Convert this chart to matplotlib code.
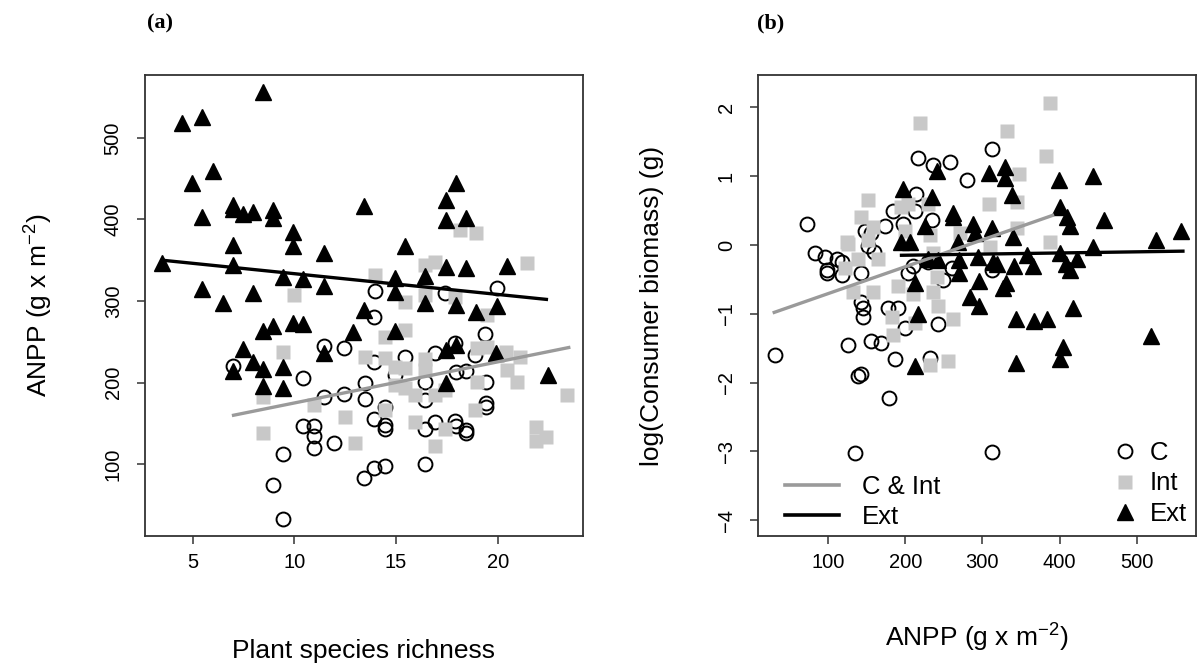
import matplotlib
matplotlib.use("Agg")
import matplotlib.pyplot as plt
from matplotlib.lines import Line2D

plt.rcParams['font.family'] = ['Liberation Sans', 'DejaVu Sans']
plt.rcParams['mathtext.fontset'] = 'custom'
plt.rcParams['mathtext.rm'] = 'Liberation Sans'
plt.rcParams['mathtext.it'] = 'Liberation Sans:italic'

# ---- panel (a): plant species richness vs ANPP ----
a_c_x = [13.9, 6.97, 11.45, 12.44, 13.92, 15.44, 16.92, 10.42, 13.47, 11.45, 12.44, 13.47,
         16.43, 16.43, 13.92, 14.46, 14.46, 16.92, 16.43, 10.42, 10.96, 10.96, 10.96, 11.95,
         9.43, 8.94, 9.43, 13.42, 13.92, 14.46, 16.43, 14.46, 19.38, 17.9, 18.89, 17.96,
         18.45, 14.95, 19.43, 19.43, 19.43, 17.9, 17.96, 18.45, 18.45, 13.97, 17.41, 19.98]
a_c_y = [280, 220, 245, 242, 225, 232, 236, 206, 199, 182, 186, 180,
         201, 179, 155, 148, 143, 152, 143, 147, 147, 134, 120, 126,
         112, 74, 33, 83, 95, 98, 100, 170, 259, 248, 234, 213,
         214, 209, 201, 175, 170, 153, 147, 142, 138, 312, 310, 316]

a_int_x = [18.15, 18.94, 21.45, 16.92, 16.43, 13.97, 15.44, 16.43, 17.9, 19.48, 15.44, 14.46,
           9.97, 13.47, 14.46, 14.95, 15.44, 16.43, 16.43, 18.99, 19.48, 20.4, 21.1, 14.95,
           15.44, 15.94, 16.92, 17.41, 20.47, 20.96, 19.0, 18.89, 14.46, 12.49, 15.94, 17.41,
           16.92, 12.98, 21.9, 22.4, 21.9, 23.4, 8.45, 9.43, 8.45, 10.96]
a_int_y = [387, 383, 347, 348, 344, 332, 299, 307, 305, 283, 264, 256,
           307, 231, 230, 219, 218, 229, 215, 242, 244, 237, 231, 197,
           194, 185, 185, 191, 215, 201, 201, 167, 166, 158, 152, 143,
           122, 126, 145, 133, 129, 185, 182, 237, 138, 172]

a_ext_x = [8.45, 4.46, 5.44, 5.99, 4.95, 5.44, 6.97, 6.97, 7.46, 7.96, 8.94, 8.94,
           9.93, 9.93, 6.97, 11.45, 13.42, 15.44, 3.47, 6.97, 9.43, 10.42, 11.45, 14.95,
           14.95, 16.43, 16.43, 5.44, 7.96, 6.48, 13.42, 8.45, 8.94, 9.93, 10.42, 12.88,
           14.95, 7.46, 7.96, 8.45, 9.43, 11.45, 6.97, 8.45, 9.43, 17.96, 17.46, 17.46,
           18.45, 17.46, 18.45, 20.47, 17.96, 18.94, 19.98, 17.46, 17.96, 19.93, 17.46, 22.5]
a_ext_y = [556, 518, 525, 459, 445, 403, 418, 413, 407, 409, 412, 402,
           385, 367, 369, 359, 417, 367, 347, 344, 329, 327, 318, 328,
           311, 331, 297, 315, 310, 297, 289, 263, 269, 273, 272, 262,
           263, 241, 225, 217, 219, 236, 214, 196, 194, 445, 424, 399,
           402, 342, 340, 343, 295, 287, 294, 240, 246, 236, 199, 209]

# fitted lines (end points)
a_fit_cint_x = [7.0, 23.5]
a_fit_cint_y = [160, 243]
a_fit_ext_x = [3.5, 22.4]
a_fit_ext_y = [350, 302]

# ---- panel (b): ANPP vs log consumer biomass ----
b_c_x = [217, 236, 258, 280, 214, 73, 184, 213, 197, 235, 148, 155, 174, 152, 83, 96, 112,
         99, 99, 118, 142, 203, 249, 142, 145, 145, 177, 190, 200, 243, 126, 155, 168, 31,
         187, 232, 139, 142, 179, 135, 313, 313, 261, 313, 118, 160, 210, 230]
b_c_y = [1.26, 1.16, 1.21, 0.95, 0.74, 0.31, 0.5, 0.5, 0.31, 0.36, 0.21, 0.17, 0.28, -0.02,
         -0.12, -0.18, -0.2, -0.37, -0.41, -0.44, -0.41, -0.41, -0.51, -0.83, -0.91, -1.05,
         -0.92, -0.92, -1.2, -1.15, -1.46, -1.39, -1.43, -1.6, -1.66, -1.65, -1.9, -1.87,
         -2.23, -3.03, -3.01, 1.39, -0.33, -0.36, -0.25, -0.1, -0.3, -0.25]

b_int_x = [219, 152, 143, 194, 125, 232, 122, 139, 126, 151, 165, 191, 210, 236, 242, 132,
           158, 183, 213, 262, 184, 232, 255, 332, 383, 347, 308, 345, 271, 388, 310, 387,
           345, 203, 229, 236, 241, 158, 200]
b_int_y = [1.77, 0.66, 0.4, 0.55, 0.04, 0.14, -0.33, -0.21, 0.02, 0.07, -0.2, -0.59, -0.71,
           -0.69, -0.88, -0.69, -0.69, -1.05, -1.14, -1.08, -1.31, -1.75, -1.69, 1.66, 1.29,
           1.03, 0.6, 0.62, 0.17, 0.05, -0.03, 2.06, 0.24, 0.6, 0.6, -0.12, -0.47, 0.26, 0.2]

b_ext_x = [241, 197, 235, 262, 225, 194, 206, 268, 229, 242, 269, 269, 213, 217, 213, 308,
           329, 329, 399, 444, 338, 401, 262, 410, 414, 457, 288, 291, 312, 340, 294, 314,
           319, 358, 400, 444, 341, 366, 409, 414, 423, 296, 330, 327, 284, 296, 418, 344,
           367, 384, 405, 400, 343, 525, 557, 518]
b_ext_y = [1.08, 0.82, 0.69, 0.46, 0.27, 0.04, 0.04, 0.04, -0.2, -0.22, -0.22, -0.41, -0.56,
           -1.0, -1.76, 1.04, 1.13, 0.98, 0.94, 1.0, 0.72, 0.55, 0.4, 0.4, 0.27, 0.37, 0.31,
           0.18, 0.24, 0.11, -0.18, -0.25, -0.28, -0.14, -0.11, -0.03, -0.3, -0.3, -0.27,
           -0.37, -0.2, -0.53, -0.56, -0.63, -0.75, -0.88, -0.92, -1.08, -1.1, -1.07, -1.49,
           -1.66, -1.72, 0.07, 0.2, -1.33]

b_fit_cint_x = [30, 391]
b_fit_cint_y = [-0.98, 0.43]
b_fit_ext_x = [195, 560]
b_fit_ext_y = [-0.15, -0.09]

SQ_GRAY = '#c8c8c8'
LN_GRAY = '#9a9a9a'
EDGE = '#333333'
LAB_FS = 19
TICK_FS = 14.5
LEG_FS = 18.5


def draw_points(ax, cx, cy, ix, iy, ex, ey):
    ax.plot(cx, cy, 'o', ms=10, mfc='none', mec='black', mew=1.4, ls='none', zorder=2)
    ax.plot(ix, iy, 's', ms=9.5, mfc=SQ_GRAY, mec='none', ls='none', zorder=3)
    ax.plot(ex, ey, '^', ms=12, mfc='black', mec='black', ls='none', zorder=4)


def style_axes(ax):
    for s in ax.spines.values():
        s.set_color(EDGE)
        s.set_linewidth(1.3)
    ax.tick_params(direction='out', length=6, width=1.1, color=EDGE, labelsize=TICK_FS, pad=6)
    ax.tick_params(axis='y', pad=10)
    for lab in ax.get_yticklabels():
        lab.set_rotation(90)
        lab.set_va('center')


fig = plt.figure(figsize=(12, 6.68), dpi=100)
ax1 = fig.add_axes([0.1208, 0.1976, 0.3650, 0.6901])
ax2 = fig.add_axes([0.6317, 0.1976, 0.3650, 0.6901])

# (a)
draw_points(ax1, a_c_x, a_c_y, a_int_x, a_int_y, a_ext_x, a_ext_y)
ax1.plot(a_fit_cint_x, a_fit_cint_y, color=LN_GRAY, lw=2.4, zorder=5)
ax1.plot(a_fit_ext_x, a_fit_ext_y, color='black', lw=2.4, zorder=5)
ax1.set_xlim(2.64, 24.2)
ax1.set_ylim(12, 577)
ax1.set_xticks([5, 10, 15, 20])
ax1.set_yticks([100, 200, 300, 400, 500])
style_axes(ax1)
ax1.set_xlabel('Plant species richness', fontsize=LAB_FS)
ax1.set_ylabel('ANPP (g x m$^{-2}$)', fontsize=LAB_FS)
ax1.xaxis.set_label_coords(0.5, -0.265)
ax1.xaxis.label.set_va('baseline')
ax1.yaxis.set_label_coords(-0.205, 0.5)

# (b)
draw_points(ax2, b_c_x, b_c_y, b_int_x, b_int_y, b_ext_x, b_ext_y)
ax2.plot(b_fit_cint_x, b_fit_cint_y, color=LN_GRAY, lw=2.4, zorder=5)
ax2.plot(b_fit_ext_x, b_fit_ext_y, color='black', lw=2.4, zorder=5)
ax2.set_xlim(9, 577)
ax2.set_ylim(-4.23, 2.47)
ax2.set_xticks([100, 200, 300, 400, 500])
ax2.set_yticks([-4, -3, -2, -1, 0, 1, 2])
style_axes(ax2)
ax2.set_xlabel('ANPP (g x m$^{-2}$)', fontsize=LAB_FS)
ax2.set_ylabel('log(Consumer biomass) (g)', fontsize=LAB_FS)
ax2.xaxis.set_label_coords(0.5, -0.24)
ax2.xaxis.label.set_va('baseline')
ax2.yaxis.set_label_coords(-0.215, 0.5)

line_handles = [Line2D([], [], color=LN_GRAY, lw=2.6), Line2D([], [], color='black', lw=2.6)]
leg1 = ax2.legend(line_handles, ['C & Int', 'Ext'], loc='lower left', frameon=False,
                  fontsize=LEG_FS, handlelength=2.1, handletextpad=0.9, borderpad=0,
                  labelspacing=0.22, bbox_to_anchor=(0.032, -0.012))
ax2.add_artist(leg1)
mark_handles = [Line2D([], [], marker='o', ms=10, mfc='none', mec='black', mew=1.4, ls='none'),
                Line2D([], [], marker='s', ms=9.5, mfc=SQ_GRAY, mec='none', ls='none'),
                Line2D([], [], marker='^', ms=12, mfc='black', mec='black', ls='none')]
ax2.legend(mark_handles, ['C', 'Int', 'Ext'], loc='lower right', frameon=False,
           fontsize=LEG_FS, handlelength=1.0, handletextpad=0.45, borderpad=0,
           labelspacing=0.25, bbox_to_anchor=(1.008, -0.006))

fig.text(0.1335, 0.965, '(a)', fontsize=16, family='Liberation Serif', weight='bold',
         ha='center', va='center')
fig.text(0.6425, 0.965, '(b)', fontsize=16, family='Liberation Serif', weight='bold',
         ha='center', va='center')

fig.savefig('out.png', dpi=100)
